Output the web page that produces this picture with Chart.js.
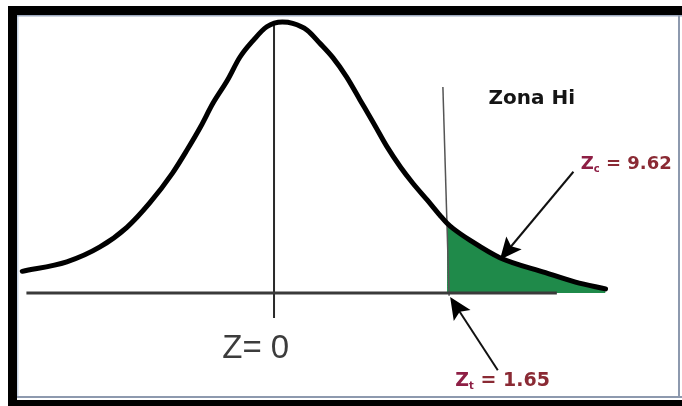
<!DOCTYPE html>
<html><head><meta charset="utf-8">
<script src="https://cdn.jsdelivr.net/npm/chart.js@4/dist/chart.umd.min.js"></script>
<style>html,body{margin:0;padding:0;background:#fff;}#wrap{position:relative;width:682px;height:406px;}</style>
</head><body><div id="wrap"><canvas id="c" width="682" height="406"></canvas></div>
<script>
// Hand-drawn bell curve (Z units, relative height)
const curveZ = [-2.43,-2.00,-1.68,-1.42,-1.20,-0.98,-0.84,-0.71,-0.59,-0.45,-0.33,-0.20,-0.07,0.08,0.18,0.32,0.44,0.57,0.70,0.83,0.96,1.09,1.22,1.34,1.48,1.60,1.67,1.73,1.89,2.18,2.62,2.91,3.20];
const curveY = [0.032,0.046,0.068,0.097,0.133,0.177,0.211,0.245,0.280,0.314,0.348,0.373,0.393,0.400,0.398,0.388,0.369,0.347,0.319,0.285,0.251,0.216,0.186,0.162,0.137,0.115,0.103,0.095,0.078,0.052,0.030,0.016,0.006];
// Shaded rejection tail starts at the critical value
const tailStartZ = 1.67;
// Reference lines
const baseZ = [-2.39, 2.73];
const baseY = [0, 0];
const zeroLineZ = [0, 0];
const zeroLineY = [0.400, -0.037];
const critLineZ = [1.63, 1.69];
const critLineY = [0.304, -0.004];
// Arrows [fromZ, fromY, toZ, toY]
const arrowZc = [2.89, 0.179, 2.18, 0.049];
const arrowZt = [2.16, -0.114, 1.70, -0.006];
// Labels
const labelZona = "Zona Hi";
const labelZcMain = "Z", labelZcSub = "c", labelZcVal = " = 9.62";
const labelZtMain = "Z", labelZtSub = "t", labelZtVal = " = 1.65";
const labelZero = "Z= 0";

const pts = (xs, ys) => xs.map((x, i) => ({x, y: ys[i]}));
const curvePts = pts(curveZ, curveY);
const tailPts = curvePts.filter(p => p.x >= tailStartZ);

const annot = {
  id: 'annot',
  afterDatasetsDraw(chart) {
    const {ctx, scales: {x, y}} = chart;
    const px = v => x.getPixelForValue(v), py = v => y.getPixelForValue(v);
    function arrow(a) {
      const x0 = px(a[0]), y0 = py(a[1]), x1 = px(a[2]), y1 = py(a[3]);
      const dx = x1 - x0, dy = y1 - y0, L = Math.hypot(dx, dy);
      const ux = dx / L, uy = dy / L, hl = 22, hw = 10;
      ctx.save();
      ctx.strokeStyle = '#111'; ctx.lineWidth = 2;
      ctx.beginPath(); ctx.moveTo(x0, y0); ctx.lineTo(x1 - ux * hl * 0.7, y1 - uy * hl * 0.7); ctx.stroke();
      ctx.fillStyle = '#000';
      ctx.beginPath();
      ctx.moveTo(x1, y1);
      ctx.lineTo(x1 - ux * hl - uy * hw, y1 - uy * hl + ux * hw);
      ctx.lineTo(x1 - ux * hl * 0.8, y1 - uy * hl * 0.8);
      ctx.lineTo(x1 - ux * hl + uy * hw, y1 - uy * hl - ux * hw);
      ctx.closePath(); ctx.fill();
      ctx.restore();
    }
    arrow(arrowZc);
    arrow(arrowZt);
    function subLabel(main, sub, val, zx, zy, size, colMain, colVal) {
      let cx = px(zx); const cy = py(zy);
      ctx.save();
      ctx.textBaseline = 'middle'; ctx.textAlign = 'left';
      ctx.font = 'bold ' + size + 'px "DejaVu Sans"';
      ctx.fillStyle = colMain; ctx.fillText(main, cx, cy);
      cx += ctx.measureText(main).width;
      ctx.font = 'bold ' + Math.round(size * 0.55) + 'px "DejaVu Sans"';
      ctx.fillText(sub, cx, cy + size * 0.3);
      cx += ctx.measureText(sub).width;
      ctx.font = 'bold ' + size + 'px "DejaVu Sans"';
      ctx.fillStyle = colVal; ctx.fillText(val, cx, cy);
      ctx.restore();
    }
    ctx.save();
    ctx.textBaseline = 'middle'; ctx.textAlign = 'left';
    ctx.font = 'bold 20px "DejaVu Sans"'; ctx.fillStyle = '#151515';
    ctx.fillText(labelZona, px(2.07), py(0.287));
    ctx.font = '33px "Liberation Sans"'; ctx.fillStyle = '#3c3c3c';
    ctx.fillText(labelZero, px(-0.50), py(-0.083));
    ctx.restore();
    subLabel(labelZcMain, labelZcSub, labelZcVal, 2.96, 0.190, 18, '#8e1f45', '#8a2a34');
    subLabel(labelZtMain, labelZtSub, labelZtVal, 1.75, -0.130, 19, '#8e1f45', '#8a2a34');
  },
  afterDraw(chart) {
    const ctx = chart.ctx;
    ctx.save();
    ctx.fillStyle = '#000';
    ctx.fillRect(8, 6, 9, 400);
    ctx.fillRect(8, 6, 674, 9);
    ctx.fillRect(8, 400, 674, 6);
    ctx.fillStyle = '#c5d3e6'; ctx.fillRect(17, 15, 1.5, 382);
    ctx.fillStyle = '#9eaac0'; ctx.fillRect(17, 15, 665, 1.5);
    ctx.fillStyle = '#8d99ae'; ctx.fillRect(17, 396, 665, 2);
    ctx.fillStyle = '#8d99ae'; ctx.fillRect(678, 15, 2, 383);
    ctx.restore();
  }
};

new Chart(document.getElementById('c'), {
  type: 'scatter',
  data: {
    datasets: [
      {data: curvePts, showLine: true, borderColor: '#000', borderWidth: 5, pointRadius: 0, cubicInterpolationMode: 'monotone', borderCapStyle: 'round', borderJoinStyle: 'round', order: 0},
      {data: pts(baseZ, baseY), showLine: true, borderColor: '#3a3a3a', borderWidth: 3, pointRadius: 0, order: 1},
      {data: pts(zeroLineZ, zeroLineY), showLine: true, borderColor: '#2a2a2a', borderWidth: 2, pointRadius: 0, order: 2},
      {data: pts(critLineZ, critLineY), showLine: true, borderColor: '#555', borderWidth: 1.5, pointRadius: 0, order: 3},
      {data: tailPts, showLine: true, borderWidth: 0, borderColor: 'rgba(0,0,0,0)', pointRadius: 0, fill: 'origin', backgroundColor: '#1f8a4a', cubicInterpolationMode: 'monotone', order: 5}
    ]
  },
  options: {
    responsive: false, animation: false, devicePixelRatio: 1,
    layout: {padding: 0},
    plugins: {legend: {display: false}, tooltip: {enabled: false}, title: {display: false}},
    scales: {
      x: {type: 'linear', min: -2.645, max: 3.938, display: false},
      y: {type: 'linear', min: -0.1668, max: 0.4325, display: false}
    }
  },
  plugins: [annot]
});
</script>
</body></html>
